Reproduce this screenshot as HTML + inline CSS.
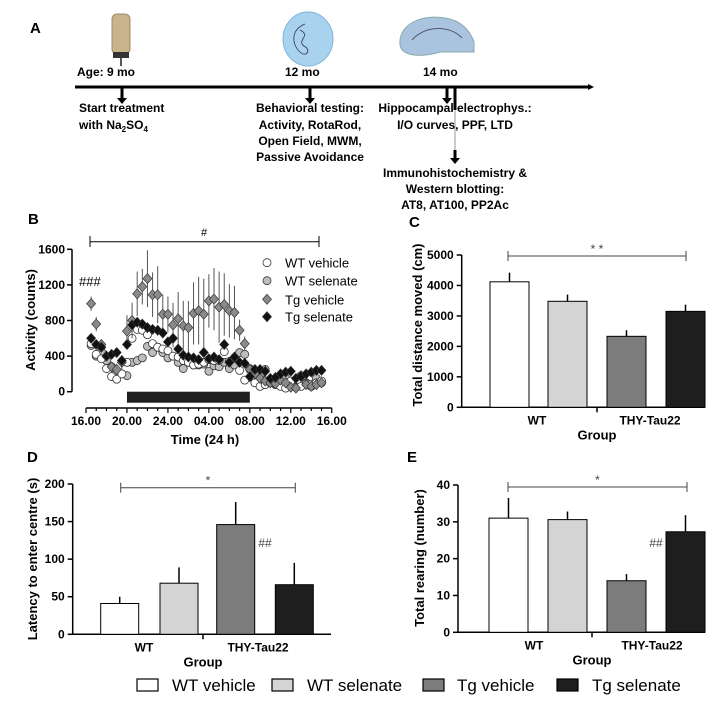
<!DOCTYPE html>
<html><head><meta charset="utf-8"><style>
html,body{margin:0;padding:0;background:#fff;}
svg{display:block;font-family:"Liberation Sans",Arial,sans-serif;}
.b{font-weight:bold;}
</style></head><body>
<svg id="fig" width="708" height="706" viewBox="0 0 708 706" xmlns="http://www.w3.org/2000/svg">
<g id="panelA">
<text x="30" y="33" class="b" font-size="15">A</text>
<g>
<rect x="112" y="14" width="18" height="40" rx="5" fill="#c9b38c" stroke="#a08a66"/>
<rect x="113" y="52" width="16" height="6" fill="#333"/>
<line x1="121" y1="58" x2="121" y2="66" stroke="#555" stroke-width="2"/>
</g>
<g>
<ellipse cx="308" cy="39" rx="25" ry="27" fill="#a9d2ef" stroke="#7fb3da"/>
<path d="M305 24 C290 30 292 45 300 52 C306 58 312 50 304 46 C296 40 312 36 300 30" fill="none" stroke="#335" stroke-width="0.8"/>
</g>
<g>
<path d="M400 45 C398 25 420 14 445 18 C460 20 470 30 474 42 L474 52 L440 52 C420 58 402 56 400 45Z" fill="#aac4e0" stroke="#8aa"/>
<path d="M412 40 C425 25 450 25 462 38" fill="none" stroke="#556" stroke-width="1"/>
</g>
<text x="77" y="76" class="b" font-size="12">Age: 9 mo</text>
<text x="285" y="76" class="b" font-size="12">12 mo</text>
<text x="423" y="76" class="b" font-size="12">14 mo</text>
<line x1="75" y1="87" x2="588" y2="87" stroke="#000" stroke-width="3"/>
<polygon points="588,84 594,87 588,90" fill="#000"/>
<g stroke="#000" stroke-width="3">
<line x1="122" y1="88" x2="122" y2="99"/><line x1="310" y1="88" x2="310" y2="99"/><line x1="447" y1="88" x2="447" y2="99"/><line x1="455" y1="88" x2="455" y2="110"/><line x1="455" y1="150" x2="455" y2="159"/>
</g>
<g fill="#000"><polygon points="117,98 127,98 122,104"/><polygon points="305,98 315,98 310,104"/><polygon points="442,98 452,98 447,104"/><polygon points="450,158 460,158 455,164"/></g>
<line x1="455" y1="110" x2="455" y2="150" stroke="#ccc" stroke-width="2"/>
<g class="b" font-size="12">
<text x="79" y="112">Start treatment</text>
<text x="79" y="129">with Na<tspan font-size="8" dy="3">2</tspan><tspan dy="-3">SO</tspan><tspan font-size="8" dy="3">4</tspan></text>
<text x="310" y="112" text-anchor="middle">Behavioral testing:</text>
<text x="310" y="129" text-anchor="middle">Activity, RotaRod,</text>
<text x="310" y="145" text-anchor="middle">Open Field, MWM,</text>
<text x="310" y="161" text-anchor="middle">Passive Avoidance</text>
<text x="455" y="112" text-anchor="middle">Hippocampal electrophys.:</text>
<text x="455" y="129" text-anchor="middle">I/O curves, PPF, LTD</text>
<text x="455" y="177" text-anchor="middle">Immunohistochemistry &amp;</text>
<text x="455" y="193" text-anchor="middle">Western blotting:</text>
<text x="455" y="209" text-anchor="middle">AT8, AT100, PP2Ac</text>
</g>
</g>
<g id="panelB"></g>
<g id="panelC"></g>
<g id="panelD"></g>
<g id="panelE"></g>
<g id="legend"></g>
</svg>
<script>
// Panel B data: time in hours after 16.00
const bTimes = [0.5,1,1.5,2,2.5,3,3.5,4,4.5,5,5.5,6,6.5,7,7.5,8,8.5,9,9.5,10,10.5,11,11.5,12,12.5,13,13.5,14,14.5,15,15.5,16,16.5,17,17.5,18,18.5,19,19.5,20,20.5,21,21.5,22,22.5,23];
const tgVehicle = [990,760,530,400,280,250,330,680,800,1100,1180,1270,1090,1090,870,870,750,820,740,720,880,910,870,1020,1040,950,980,910,890,690,540,250,200,150,120,100,90,130,100,50,40,180,80,60,80,100];
const tgVehicleErr = [80,80,60,60,60,60,80,180,200,250,200,320,250,320,220,200,250,300,280,300,350,380,400,300,350,400,350,300,300,120,80,60,60,60,50,50,50,50,50,40,40,50,40,40,40,50];
const tgSelenate = [600,530,500,400,420,440,350,530,750,780,760,720,700,690,660,560,600,480,410,390,380,360,440,370,390,360,530,330,390,330,320,170,250,250,230,150,160,200,220,230,150,170,200,220,240,240];
const wtVehicle = [540,420,370,260,170,140,200,330,600,700,690,640,540,500,480,460,400,390,350,330,300,310,330,360,350,350,450,340,380,240,130,250,100,60,80,100,90,60,40,120,50,60,90,80,100,120];
const wtSelenate = [520,400,450,350,280,230,200,180,330,350,380,510,440,500,440,380,400,330,260,330,300,300,310,230,290,280,330,260,300,440,420,260,100,180,250,130,80,120,150,100,50,180,100,60,150,100];
const bYTicks = [0,400,800,1200,1600];
const bXTicks = ["16.00","20.00","24.00","04.00","08.00","12.00","16.00"];
// Bar panels
const groups = ["WT vehicle","WT selenate","Tg vehicle","Tg selenate"];
const cValues = [4120,3480,2330,3150];
const cErr = [300,220,200,220];
const cTicks = [0,1000,2000,3000,4000,5000];
const dValues = [41,68,146,66];
const dErr = [9,21,30,29];
const dTicks = [0,50,100,150,200];
const eValues = [31,30.6,14,27.3];
const eErr = [5.5,2.2,1.8,4.5];
const eTicks = [0,10,20,30,40];

const NS="http://www.w3.org/2000/svg";
function mk(parent,tag,attrs,txt){const e=document.createElementNS(NS,tag);for(const k in attrs)e.setAttribute(k,attrs[k]);if(txt!==undefined)e.textContent=txt;parent.appendChild(e);return e;}
const fills=["#ffffff","#d4d4d4","#7c7c7c","#1e1e1e"];

// ---- Panel B
(function(){
const g=document.getElementById('panelB');
const x0=86,pxh=10.24,y0=391.7,py=142.4/1600;
const X=t=>x0+t*pxh, Y=v=>y0-v*py;
let t=mk(g,'text',{x:28,y:224,'font-size':15,'class':'b'},'B');


mk(g,'line',{x1:72,y1:Y(1600),x2:72,y2:y0,stroke:'#000','stroke-width':1.5});
bYTicks.forEach(v=>{mk(g,'line',{x1:67,y1:Y(v),x2:72,y2:Y(v),stroke:'#000','stroke-width':1.5});
const l=mk(g,'text',{x:65,y:Y(v)+4,'font-size':12,'class':'b','text-anchor':'end'},v);

});
const yt=mk(g,'text',{transform:'translate(35,320) rotate(-90)','font-size':13,'class':'b','text-anchor':'middle'},'Activity (counts)');


mk(g,'line',{x1:X(0),y1:408,x2:X(24),y2:408,stroke:'#000','stroke-width':1.5});
for(let h=0;h<=24;h+=1){mk(g,'line',{x1:X(h),y1:408,x2:X(h),y2:h%4==0?413:411,stroke:'#000','stroke-width':1.2});}
bXTicks.forEach((s,i)=>{const l=mk(g,'text',{x:X(i*4),y:425,'font-size':12,'class':'b','text-anchor':'middle'},s);

});
const xt=mk(g,'text',{x:205,y:444,'font-size':13,'class':'b','text-anchor':'middle'},'Time (24 h)');


const dark=mk(g,'rect',{x:X(4),y:391.7,width:X(16)-X(4),height:11,fill:'#1e1e1e'});


mk(g,'line',{x1:90,y1:241.7,x2:319,y2:241.7,stroke:'#000'});
mk(g,'line',{x1:90,y1:236,x2:90,y2:247,stroke:'#000'});mk(g,'line',{x1:319,y1:236,x2:319,y2:247,stroke:'#000'});
mk(g,'text',{x:204,y:236,'font-size':11,'text-anchor':'middle'},'#');
mk(g,'text',{x:79,y:286,'font-size':13},'###');
function series(vals,err,shape,fill,name){
 const sg=mk(g,'g',{});
 
 
 vals.forEach((v,i)=>{const x=X(bTimes[i]),y=Y(v),e=err?err[i]:25;
  mk(sg,'line',{x1:x,y1:Y(v+e),x2:x,y2:Y(Math.max(0,v-e)),stroke:shape=='d'?'#555':'#444','stroke-width':1});
  let m;
  if(shape=='d') m=mk(sg,'polygon',{points:`${x},${y-5} ${x+4.5},${y} ${x},${y+5} ${x-4.5},${y}`,fill:fill,stroke:'#333','stroke-width':0.7});
  else m=mk(sg,'circle',{cx:x,cy:y,r:4,fill:fill,stroke:'#333','stroke-width':0.8});
  
  
 });
}
series(wtSelenate,null,'c','#bdbdbd','wt-selenate-series');
series(wtVehicle,null,'c','#ffffff','wt-vehicle-series');
series(tgVehicle,tgVehicleErr,'d','#8a8a8a','tg-vehicle-series');
series(tgSelenate,null,'d','#111','tg-selenate-series');
const lg=[['c','#fff','WT vehicle'],['c','#bdbdbd','WT selenate'],['d','#8a8a8a','Tg vehicle'],['d','#111','Tg selenate']];
const ly=[262.7,280.7,299.3,316.7];
lg.forEach((l,i)=>{const x=267,y=ly[i];
 if(l[0]=='d') mk(g,'polygon',{points:`${x},${y-5} ${x+4.5},${y} ${x},${y+5} ${x-4.5},${y}`,fill:l[1],stroke:'#333','stroke-width':0.7});
 else mk(g,'circle',{cx:x,cy:y,r:4,fill:l[1],stroke:'#333','stroke-width':0.8});
 const tx=mk(g,'text',{x:285,y:y+5,'font-size':13},l[2]);
 
 
});
})();

// ---- Bar panels
function barPanel(id,cfg){
const g=document.getElementById(id);
const Y=v=>cfg.y0-(v/cfg.max)*(cfg.y0-cfg.yTop);
const lab=mk(g,'text',{x:cfg.lx,y:cfg.ly,'font-size':15,'class':'b'},cfg.label);


mk(g,'line',{x1:cfg.ax,y1:cfg.yTop,x2:cfg.ax,y2:cfg.y0,stroke:'#000','stroke-width':1.5});
mk(g,'line',{x1:cfg.ax,y1:cfg.y0,x2:cfg.xEnd,y2:cfg.y0,stroke:'#000','stroke-width':1.5});
mk(g,'line',{x1:cfg.mid,y1:cfg.y0,x2:cfg.mid,y2:cfg.y0+5,stroke:'#000','stroke-width':1.5});
cfg.ticks.forEach(v=>{mk(g,'line',{x1:cfg.ax-5,y1:Y(v),x2:cfg.ax,y2:Y(v),stroke:'#000','stroke-width':1.5});
 const l=mk(g,'text',{x:cfg.ax-8,y:Y(v)+4,'font-size':12,'class':'b','text-anchor':'end'},v);
 
 });
const yt=mk(g,'text',{transform:`translate(${cfg.tx},${cfg.ty}) rotate(-90)`,'font-size':13,'class':'b','text-anchor':'middle'},cfg.title);


cfg.vals.forEach((v,i)=>{const bx=cfg.bx[i],w=cfg.bw;
 mk(g,'line',{x1:bx+w/2,y1:Y(v),x2:bx+w/2,y2:Y(v+cfg.err[i]),stroke:'#000','stroke-width':1.5});
 const r=mk(g,'rect',{x:bx,y:Y(v),width:w,height:cfg.y0-Y(v),fill:fills[i],stroke:'#000','stroke-width':1});
 
 
});
const w1=mk(g,'text',{x:cfg.wtx,y:cfg.y0+17,'font-size':12,'class':'b','text-anchor':'middle'},'WT');


const w2=mk(g,'text',{x:cfg.thx,y:cfg.y0+17,'font-size':12,'class':'b','text-anchor':'middle'},'THY-Tau22');


const gr=mk(g,'text',{x:cfg.mid,y:cfg.y0+32,'font-size':13,'class':'b','text-anchor':'middle'},'Group');


mk(g,'line',{x1:cfg.brx1,y1:cfg.bry,x2:cfg.brx2,y2:cfg.bry,stroke:'#444'});
mk(g,'line',{x1:cfg.brx1,y1:cfg.bry-5,x2:cfg.brx1,y2:cfg.bry+5,stroke:'#444'});
mk(g,'line',{x1:cfg.brx2,y1:cfg.bry-5,x2:cfg.brx2,y2:cfg.bry+5,stroke:'#444'});
mk(g,'text',{x:(cfg.brx1+cfg.brx2)/2,y:cfg.bry-3,'font-size':12,'text-anchor':'middle',fill:'#444'},cfg.sig);
if(cfg.hash) mk(g,'text',{x:cfg.hash[0],y:cfg.hash[1],'font-size':12,'text-anchor':'middle',fill:'#444'},'##');
}
barPanel('panelC',{label:'C',lx:409,ly:227,ax:461.7,y0:407.3,yTop:255,max:5000,xEnd:705,mid:597,ticks:cTicks,vals:cValues,err:cErr,bx:[490,548,607,666],bw:39,title:'Total distance moved (cm)',tx:422,ty:325,wtx:537,thx:650,brx1:508,brx2:686,bry:256,sig:'* *'});
barPanel('panelD',{label:'D',lx:27,ly:462,ax:72.7,y0:634.3,yTop:484,max:200,xEnd:331,mid:203,ticks:dTicks,vals:dValues,err:dErr,bx:[100.7,160,216.7,275.3],bw:38,title:'Latency to enter centre (s)',tx:37,ty:559,wtx:144,thx:258,brx1:120.7,brx2:295.3,bry:487.7,sig:'*',hash:[265,547]});
barPanel('panelE',{label:'E',lx:407,ly:462,ax:458,y0:632.3,yTop:485,max:40,xEnd:705,mid:592,ticks:eTicks,vals:eValues,err:eErr,bx:[489,548,607,666],bw:39,title:'Total rearing (number)',tx:424,ty:558,wtx:534,thx:652,brx1:508,brx2:687,bry:487,sig:'*',hash:[656,547]});

// ---- Legend
(function(){
const g=document.getElementById('legend');
const bxs=[137,272,423,557], txs=[172,307,457,592];
groups.forEach((n,i)=>{
 const r=mk(g,'rect',{x:bxs[i],y:679,width:21,height:12,fill:fills[i],stroke:'#000','stroke-width':1.2});
 
 
 const t=mk(g,'text',{x:txs[i],y:691,'font-size':17},n);
 
 
});
})();
</script>
</body></html>
